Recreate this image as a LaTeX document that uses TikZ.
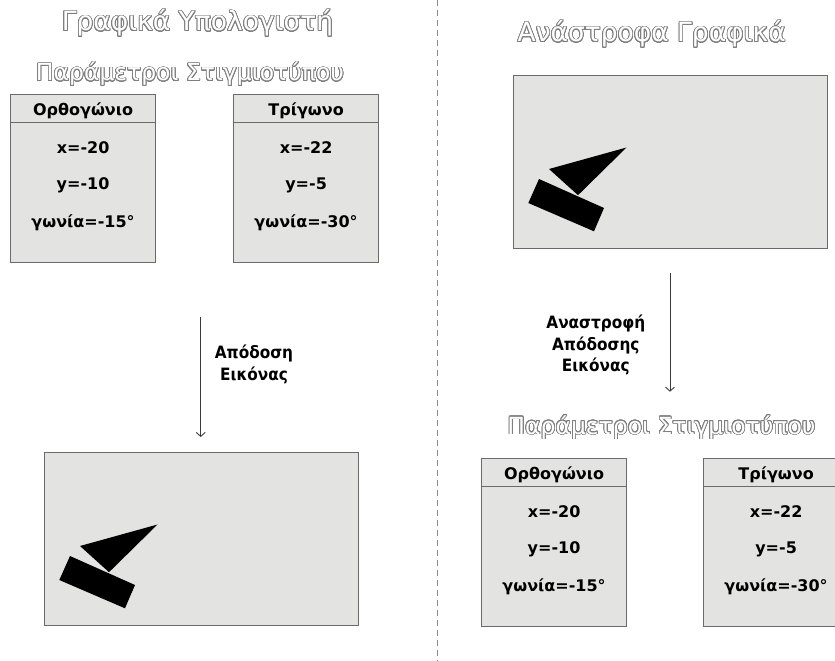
\documentclass[tikz,border=0pt]{standalone}
\usepackage{fontspec}
\setmainfont{DejaVu Sans}
\newfontfamily\condfont{DejaVu Sans Condensed}
\usepackage[copies]{contour}
\contourlength{0.75pt}
\contournumber{32}
\usetikzlibrary{arrows.meta}
\definecolor{boxfill}{HTML}{E3E4E2}
\definecolor{boxline}{HTML}{6A6A6A}
\definecolor{outl}{HTML}{7E7E7E}
\definecolor{arrowc}{HTML}{3A3A3A}
\definecolor{dashc}{HTML}{8A8A8A}
\newcommand{\outlined}[1]{\contour{outl}{\textcolor{white}{#1}}}
\newcommand{\paramBox}[7]{%
  \node[pbox] (#1) at (#2,#3) {};
  \draw[boxline, line width=1pt] ([yshift=-28pt]#1.north west) -- ([yshift=-28pt]#1.north east);
  \node[boxtxt] (#1-title) at ([yshift=-21pt]#1.north) {#4};
  \node[boxtxt] (#1-x) at ([yshift=-59.7pt]#1.north) {#5};
  \node[boxtxt] (#1-y) at ([yshift=-95.8pt]#1.north) {#6};
  \node[boxtxt] (#1-a) at ([yshift=-133.5pt]#1.north) {#7};
}
\begin{document}
\begin{tikzpicture}[x=1pt,y=-1pt,
  titletxt/.style={font=\fontsize{26.5}{30}\selectfont, anchor=base, inner sep=0},
  subtxt/.style={font=\fontsize{23.5}{28}\selectfont, anchor=base, inner sep=0},
  boxtxt/.style={font=\bfseries\fontsize{16}{20}\selectfont, anchor=base, inner sep=0},
  lbltxt/.style={font=\condfont\bfseries\fontsize{17}{20}\selectfont, anchor=base, inner sep=0},
  pbox/.style={draw=boxline, fill=boxfill, line width=1.2pt, minimum width=145pt, minimum height=168pt, anchor=north west, inner sep=0},
  screen/.style={draw=boxline, fill=boxfill, line width=1.2pt, minimum width=314pt, minimum height=173pt, anchor=north west, inner sep=0},
  flow/.style={draw=arrowc, line width=0.9pt, -{Straight Barb[length=4pt,width=9pt,line width=0.9pt]}},
  divider/.style={draw=dashc, line width=1.1pt, dash pattern=on 6pt off 4pt}
]
\useasboundingbox (0,0) rectangle (835,661);
% divider
\coordinate (dtop) at (437.5,0);
\coordinate (dbot) at (437.5,661);
\draw[divider] (dtop) -- (dbot);

% left side
\node[titletxt] (lt) at (197.5,31) {\outlined{Γραφικά Υπολογιστή}};
\node[subtxt] (ls) at (190,81) {\outlined{Παράμετροι Στιγμιοτύπου}};
\paramBox{lb1}{10}{94}{Ορθογώνιο}{x=-20}{y=-10}{γωνία=-15°}
\paramBox{lb2}{233}{94}{Τρίγωνο}{x=-22}{y=-5}{γωνία=-30°}
\coordinate (la1) at (200.7,317);
\coordinate (la2) at (200.7,437);
\draw[flow] (la1) -- (la2);
\node[lbltxt] (ll1) at (254,358.3) {Απόδοση};
\node[lbltxt] (ll2) at (254,380.7) {Εικόνας};
\node[screen] (ls1) at (44,452) {};
\begin{scope}[shift={(44,452)}]
  \fill[black] (36,94) -- (113.5,72.5) -- (65,120.2) -- cycle;
  \fill[black] (26,104) -- (91,133) -- (81,156.3) -- (15.3,128) -- cycle;
\end{scope}

% right side
\node[titletxt] (rt) at (651.7,42) {\outlined{Ανάστροφα Γραφικά}};
\node[screen] (rs1) at (513,75) {};
\begin{scope}[shift={(513,75)}]
  \fill[black] (36,94) -- (113.5,72.5) -- (65,120.2) -- cycle;
  \fill[black] (26,104) -- (91,133) -- (81,156.3) -- (15.3,128) -- cycle;
\end{scope}
\coordinate (ra1) at (670,272.7);
\coordinate (ra2) at (670,391.7);
\draw[flow] (ra1) -- (ra2);
\node[lbltxt] (rl1) at (595.8,328.3) {Αναστροφή};
\node[lbltxt] (rl2) at (595.8,350) {Απόδοσης};
\node[lbltxt] (rl3) at (595.8,371.7) {Εικόνας};
\node[subtxt] (rsub) at (661.5,434) {\outlined{Παράμετροι Στιγμιοτύπου}};
\paramBox{rb1}{481}{458}{Ορθογώνιο}{x=-20}{y=-10}{γωνία=-15°}
\paramBox{rb2}{703}{458}{Τρίγωνο}{x=-22}{y=-5}{γωνία=-30°}
\end{tikzpicture}
\end{document}
